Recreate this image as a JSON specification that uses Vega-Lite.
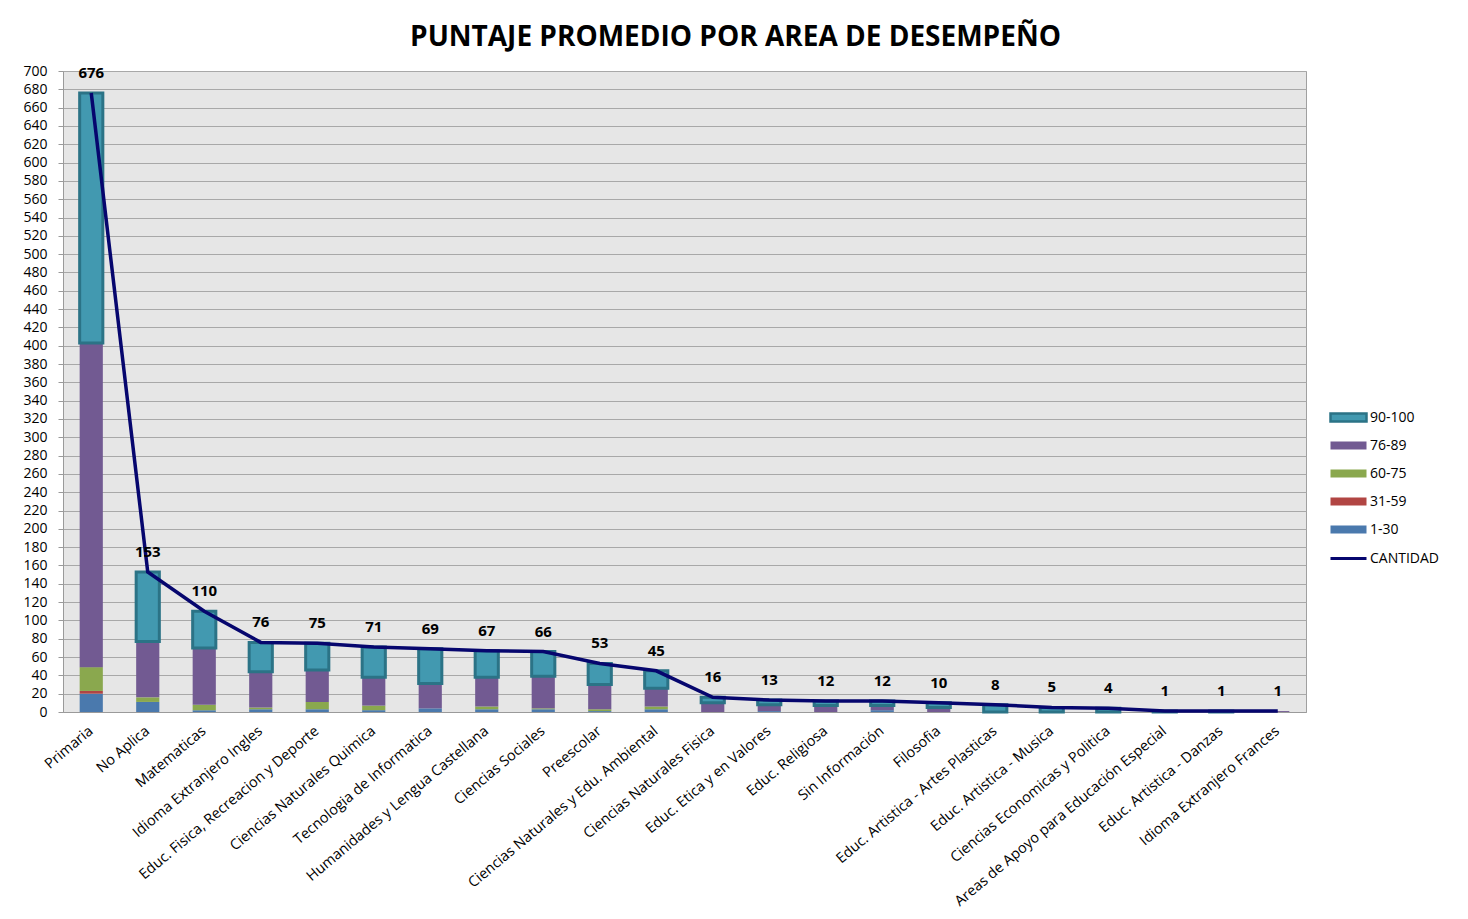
{
  "$schema": "https://vega.github.io/schema/vega-lite/v6.json",
  "width": 1243,
  "height": 641,
  "autosize": {"type": "none"},
  "padding": {"left": 63, "top": 71, "right": 162, "bottom": 207},
  "background": "white",
  "title": {
    "text": "PUNTAJE PROMEDIO POR AREA DE DESEMPEÑO",
    "font": "Open Sans",
    "fontSize": 28,
    "fontWeight": "bold",
    "color": "#000000",
    "anchor": "middle",
    "dx": 51,
    "offset": 12
  },
  "config": {
    "font": "Open Sans",
    "view": {"fill": "#e6e6e6", "stroke": "#a0a0a0", "strokeWidth": 1},
    "axis": {"labelFont": "Open Sans", "labelColor": "#000000", "labelFontSize": 14, "domainColor": "#9a9a9a", "tickColor": "#9a9a9a", "gridColor": "#a8a8a8", "gridWidth": 1, "gridOpacity": 1}
  },
  "datasets": {
    "segs": [
      {"area": "Primaria", "rango": "1-30", "valor": 20},
      {"area": "Primaria", "rango": "31-59", "valor": 3},
      {"area": "Primaria", "rango": "60-75", "valor": 26},
      {"area": "Primaria", "rango": "76-89", "valor": 354},
      {"area": "Primaria", "rango": "90-100", "valor": 273},
      {"area": "No Aplica", "rango": "1-30", "valor": 11},
      {"area": "No Aplica", "rango": "60-75", "valor": 5},
      {"area": "No Aplica", "rango": "76-89", "valor": 61},
      {"area": "No Aplica", "rango": "90-100", "valor": 76},
      {"area": "Matematicas", "rango": "1-30", "valor": 2},
      {"area": "Matematicas", "rango": "60-75", "valor": 6},
      {"area": "Matematicas", "rango": "76-89", "valor": 62},
      {"area": "Matematicas", "rango": "90-100", "valor": 40},
      {"area": "Idioma Extranjero Ingles", "rango": "1-30", "valor": 3},
      {"area": "Idioma Extranjero Ingles", "rango": "60-75", "valor": 2},
      {"area": "Idioma Extranjero Ingles", "rango": "76-89", "valor": 39},
      {"area": "Idioma Extranjero Ingles", "rango": "90-100", "valor": 32},
      {"area": "Educ. Fisica, Recreacion y Deporte", "rango": "1-30", "valor": 3},
      {"area": "Educ. Fisica, Recreacion y Deporte", "rango": "60-75", "valor": 8},
      {"area": "Educ. Fisica, Recreacion y Deporte", "rango": "76-89", "valor": 35},
      {"area": "Educ. Fisica, Recreacion y Deporte", "rango": "90-100", "valor": 29},
      {"area": "Ciencias Naturales Quimica", "rango": "1-30", "valor": 2},
      {"area": "Ciencias Naturales Quimica", "rango": "60-75", "valor": 5},
      {"area": "Ciencias Naturales Quimica", "rango": "76-89", "valor": 31},
      {"area": "Ciencias Naturales Quimica", "rango": "90-100", "valor": 33},
      {"area": "Tecnologia de Informatica", "rango": "1-30", "valor": 4},
      {"area": "Tecnologia de Informatica", "rango": "76-89", "valor": 27},
      {"area": "Tecnologia de Informatica", "rango": "90-100", "valor": 38},
      {"area": "Humanidades y Lengua Castellana", "rango": "1-30", "valor": 3},
      {"area": "Humanidades y Lengua Castellana", "rango": "60-75", "valor": 3},
      {"area": "Humanidades y Lengua Castellana", "rango": "76-89", "valor": 32},
      {"area": "Humanidades y Lengua Castellana", "rango": "90-100", "valor": 29},
      {"area": "Ciencias Sociales", "rango": "1-30", "valor": 3},
      {"area": "Ciencias Sociales", "rango": "60-75", "valor": 1},
      {"area": "Ciencias Sociales", "rango": "76-89", "valor": 35},
      {"area": "Ciencias Sociales", "rango": "90-100", "valor": 27},
      {"area": "Preescolar", "rango": "1-30", "valor": 1},
      {"area": "Preescolar", "rango": "60-75", "valor": 2},
      {"area": "Preescolar", "rango": "76-89", "valor": 27},
      {"area": "Preescolar", "rango": "90-100", "valor": 23},
      {"area": "Ciencias Naturales y Edu. Ambiental", "rango": "1-30", "valor": 3},
      {"area": "Ciencias Naturales y Edu. Ambiental", "rango": "60-75", "valor": 3},
      {"area": "Ciencias Naturales y Edu. Ambiental", "rango": "76-89", "valor": 20},
      {"area": "Ciencias Naturales y Edu. Ambiental", "rango": "90-100", "valor": 19},
      {"area": "Ciencias Naturales Fisica", "rango": "76-89", "valor": 10},
      {"area": "Ciencias Naturales Fisica", "rango": "90-100", "valor": 6},
      {"area": "Educ. Etica y en Valores", "rango": "1-30", "valor": 1},
      {"area": "Educ. Etica y en Valores", "rango": "76-89", "valor": 7},
      {"area": "Educ. Etica y en Valores", "rango": "90-100", "valor": 5},
      {"area": "Educ. Religiosa", "rango": "76-89", "valor": 7},
      {"area": "Educ. Religiosa", "rango": "90-100", "valor": 5},
      {"area": "Sin Información", "rango": "1-30", "valor": 2},
      {"area": "Sin Información", "rango": "76-89", "valor": 5},
      {"area": "Sin Información", "rango": "90-100", "valor": 5},
      {"area": "Filosofia", "rango": "76-89", "valor": 5},
      {"area": "Filosofia", "rango": "90-100", "valor": 5},
      {"area": "Educ. Artistica - Artes Plasticas", "rango": "90-100", "valor": 8},
      {"area": "Educ. Artistica - Musica", "rango": "90-100", "valor": 5},
      {"area": "Ciencias Economicas y Politica", "rango": "90-100", "valor": 4},
      {"area": "Areas de Apoyo para Educación Especial", "rango": "90-100", "valor": 1},
      {"area": "Educ. Artistica - Danzas", "rango": "90-100", "valor": 1},
      {"area": "Idioma Extranjero Frances", "rango": "76-89", "valor": 1}
    ],
    "totales": [
      {"area": "Primaria", "valor": 676},
      {"area": "No Aplica", "valor": 153},
      {"area": "Matematicas", "valor": 110},
      {"area": "Idioma Extranjero Ingles", "valor": 76},
      {"area": "Educ. Fisica, Recreacion y Deporte", "valor": 75},
      {"area": "Ciencias Naturales Quimica", "valor": 71},
      {"area": "Tecnologia de Informatica", "valor": 69},
      {"area": "Humanidades y Lengua Castellana", "valor": 67},
      {"area": "Ciencias Sociales", "valor": 66},
      {"area": "Preescolar", "valor": 53},
      {"area": "Ciencias Naturales y Edu. Ambiental", "valor": 45},
      {"area": "Ciencias Naturales Fisica", "valor": 16},
      {"area": "Educ. Etica y en Valores", "valor": 13},
      {"area": "Educ. Religiosa", "valor": 12},
      {"area": "Sin Información", "valor": 12},
      {"area": "Filosofia", "valor": 10},
      {"area": "Educ. Artistica - Artes Plasticas", "valor": 8},
      {"area": "Educ. Artistica - Musica", "valor": 5},
      {"area": "Ciencias Economicas y Politica", "valor": 4},
      {"area": "Areas de Apoyo para Educación Especial", "valor": 1},
      {"area": "Educ. Artistica - Danzas", "valor": 1},
      {"area": "Idioma Extranjero Frances", "valor": 1}
    ]
  },
  "encoding": {
    "x": {
      "field": "area",
      "type": "nominal",
      "scale": {
        "domain": ["Primaria", "No Aplica", "Matematicas", "Idioma Extranjero Ingles", "Educ. Fisica, Recreacion y Deporte", "Ciencias Naturales Quimica", "Tecnologia de Informatica", "Humanidades y Lengua Castellana", "Ciencias Sociales", "Preescolar", "Ciencias Naturales y Edu. Ambiental", "Ciencias Naturales Fisica", "Educ. Etica y en Valores", "Educ. Religiosa", "Sin Información", "Filosofia", "Educ. Artistica - Artes Plasticas", "Educ. Artistica - Musica", "Ciencias Economicas y Politica", "Areas de Apoyo para Educación Especial", "Educ. Artistica - Danzas", "Idioma Extranjero Frances"],
        "paddingInner": 0.59,
        "paddingOuter": 0.295
      },
      "axis": {"title": null, "labelAngle": -40, "labelAlign": "right", "labelBaseline": "middle", "ticks": false, "labelPadding": 17, "labelFontSize": 14.5, "grid": false, "domainColor": "#9a9a9a", "labelLimit": 400}
    },
    "y": {
      "field": "valor",
      "type": "quantitative",
      "scale": {"domain": [0, 700], "nice": false},
      "axis": {"title": null, "values": [0,20,40,60,80,100,120,140,160,180,200,220,240,260,280,300,320,340,360,380,400,420,440,460,480,500,520,540,560,580,600,620,640,660,680,700], "labelOverlap": false, "tickSize": 5, "labelPadding": 11, "domain": true}
    }
  },
  "layer": [
    {
      "data": {"name": "segs"},
      "mark": {"type": "bar"},
      "encoding": {
        "y": {"field": "valor", "type": "quantitative", "stack": "zero"},
        "order": {"field": "rango", "sort": "ascending"},
        "color": {
          "field": "rango",
          "type": "nominal",
          "scale": {
            "domain": ["90-100", "76-89", "60-75", "31-59", "1-30"],
            "range": ["#4299b0", "#725a92", "#8aa84e", "#b14543", "#4a79ad"]
          },
          "legend": {
            "title": null,
            "orient": "none",
            "legendX": 1275,
            "legendY": 336,
            "symbolType": "M-2,-0.45H2V0.45H-2Z",
            "symbolSize": 324,
            "symbolOpacity": 1,
            "symbolStrokeColor": "#2b7386",
            "rowPadding": 8,
            "labelFont": "Open Sans",
            "labelFontSize": 14,
            "labelColor": "#000000",
            "labelOffset": 11,
            "labelExpr": "datum.value === '1-30' ? ' 1-30' : datum.label",
            "encode": {"symbols": {"update": {"stroke": {"signal": "datum.value === '90-100' ? '#2b7386' : 'transparent'"}, "strokeWidth": {"value": 2.5}}}}
          }
        },
        "stroke": {"condition": {"test": "datum.rango === '90-100'", "value": "#2b7386"}, "value": null},
        "strokeWidth": {"condition": {"test": "datum.rango === '90-100'", "value": 3}, "value": 0}
      }
    },
    {
      "data": {"name": "totales"},
      "mark": {"type": "line", "strokeWidth": 3.5},
      "encoding": {
        "stroke": {
          "datum": "CANTIDAD",
          "type": "nominal",
          "scale": {"domain": ["CANTIDAD"], "range": ["#06066e"]},
          "legend": {
            "title": null,
            "orient": "none",
            "legendX": 1275,
            "legendY": 477,
            "symbolType": "M-2,0H2",
            "symbolSize": 324,
            "symbolStrokeWidth": 3,
            "labelFont": "Open Sans",
            "labelFontSize": 14,
            "labelColor": "#000000",
            "labelOffset": 11
          }
        }
      }
    },
    {
      "data": {"name": "totales"},
      "mark": {"type": "text", "dy": -20, "fontWeight": "bold", "fontSize": 15, "font": "Open Sans", "color": "#000000"},
      "encoding": {
        "text": {"field": "valor", "type": "quantitative"}
      }
    }
  ]
}
